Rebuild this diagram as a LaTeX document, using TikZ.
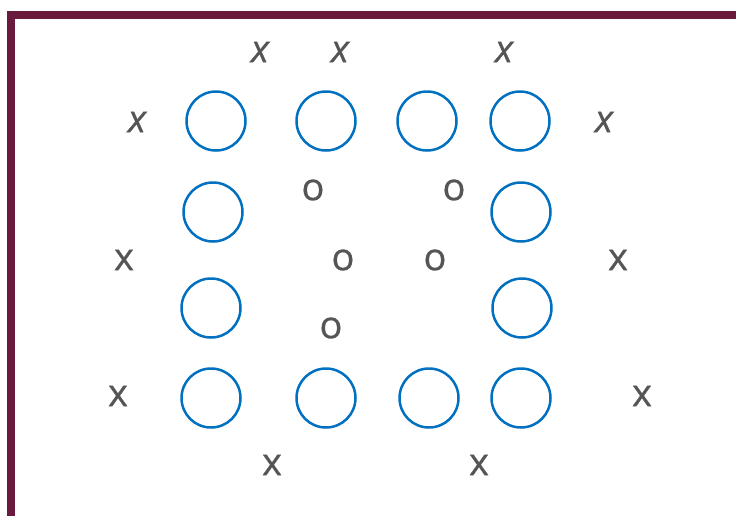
\documentclass[tikz,border=0pt]{standalone}
\usepackage{fontspec}
\setmainfont{Open Sans}
\newfontfamily\labfont{Open Sans}[FakeBold=0.6]
\definecolor{frame}{HTML}{6A1B3D}
\definecolor{ring}{HTML}{0070C0}
\definecolor{txt}{HTML}{555555}
\begin{document}
\begin{tikzpicture}[x=1pt,y=-1pt,
  ring/.style={circle,draw=ring,line width=2.5pt,minimum size=59pt,inner sep=0pt},
  lab/.style={text=txt,font=\labfont\fontsize{38}{38}\selectfont,inner sep=0pt},
  ilab/.style={lab,font=\labfont\fontsize{38}{38}\selectfont\itshape}]
\useasboundingbox (0,0) rectangle (736,515);
\draw[frame,line width=7.5pt] (11,15) rectangle (800,600);
% circles
\node[ring] (a1) at (216,121) {};
\node[ring] (a2) at (326,121) {};
\node[ring] (a3) at (427,121) {};
\node[ring] (a4) at (520,121) {};
\node[ring] (b1) at (213,212) {};
\node[ring] (b4) at (521,212) {};
\node[ring] (c1) at (211,308) {};
\node[ring] (c4) at (522,308) {};
\node[ring] (d1) at (211,398) {};
\node[ring] (d2) at (326,398) {};
\node[ring] (d3) at (429,398) {};
\node[ring] (d4) at (521,398) {};
% italic x
\node[ilab] (x1) at (260,52) {x};
\node[ilab] (x2) at (340,52) {x};
\node[ilab] (x3) at (504,52) {x};
\node[ilab] (x4) at (137,122) {x};
\node[ilab] (x5) at (604,122) {x};
% upright x
\node[lab] (x6) at (124,260) {x};
\node[lab] (x7) at (618,260) {x};
\node[lab] (x8) at (118,396) {x};
\node[lab] (x9) at (642,396) {x};
\node[lab] (x10) at (272,465) {x};
\node[lab] (x11) at (479,465) {x};
% o
\node[lab] (o1) at (313,190) {o};
\node[lab] (o2) at (454,190) {o};
\node[lab] (o3) at (343,260) {o};
\node[lab] (o4) at (435,260) {o};
\node[lab] (o5) at (331,328) {o};
\end{tikzpicture}
\end{document}
